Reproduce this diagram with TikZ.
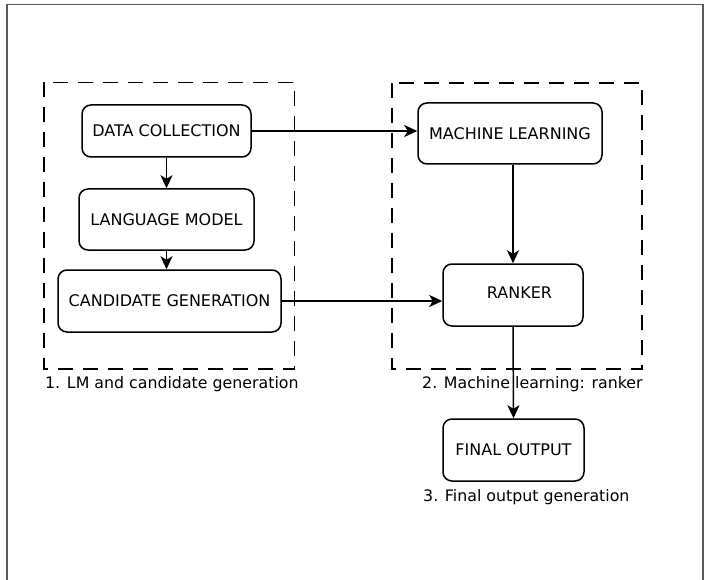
\documentclass[tikz,border=0pt]{standalone}
\usepackage{fontspec}
\setmainfont{DejaVu Sans}
\usetikzlibrary{arrows.meta}

\tikzset{
  stage/.style={draw=black, line width=1.5pt, dash pattern=on 15pt off 10pt},
  stepbox/.style={draw=black, line width=1.5pt, rounded corners=9pt, inner sep=0pt,
                  font=\fontsize{16}{19}\selectfont},
  caption/.style={inner sep=0pt, font=\fontsize{15.8}{19}\selectfont},
  flow/.style={line width=1.5pt, -{Stealth[length=13pt,width=12pt,inset=3.5pt]}}
}

\begin{document}
\begin{tikzpicture}[x=1pt,y=-1pt]
  \useasboundingbox (0,0) rectangle (704,580);

  % frame around the page
  \draw[black!65, line width=1.3pt] (7,580) -- (7,4.5) -- (703,4.5) -- (703,580);

  % stage groups
  \draw[stage] (44,82.5) rectangle (294.5,369);
  \draw[stage] (392,83) rectangle (642,369);

  % stage 1 boxes
  \node[stepbox, minimum width=169pt, minimum height=52pt] (dc) at (166.5,131) {DATA COLLECTION};
  \node[stepbox, minimum width=175pt, minimum height=61pt] (lm) at (166.5,219.5) {LANGUAGE MODEL};
  \node[stepbox, minimum width=223pt, minimum height=62pt] (cg) at (169.5,301) {CANDIDATE GENERATION};

  % stage 2 boxes
  \node[stepbox, minimum width=184pt, minimum height=61pt] (ml) at (510,133.5) {MACHINE LEARNING};
  \node[stepbox, minimum width=140pt, minimum height=62pt] (rk) at (513,295) {};
  \node[inner sep=0pt, font=\fontsize{16}{19}\selectfont] (rkt) at (519.5,293) {RANKER};

  % stage 3 box
  \node[stepbox, minimum width=141pt, minimum height=62pt] (fo) at (513.5,450) {FINAL OUTPUT};

  % stage captions
  \node[caption, anchor=west] (c1) at (45,384) {1. LM and candidate generation};
  \node[caption, anchor=west] (c2) at (422,384) {2. Machine learning: ranker};
  \node[caption, anchor=west] (c3) at (423,497) {3. Final output generation};

  % connectors
  \draw[flow] (dc.south) -- (lm.north);
  \draw[flow] (lm.south) -- (lm.south |- cg.north);
  \draw[flow] (dc.east) -- (dc.east -| ml.west);
  \draw[flow] (cg.east) -- (cg.east -| rk.west);
  \draw[flow] (rk.north |- ml.south) -- (rk.north);
  \draw[flow] (rk.south) -- (fo.north);
\end{tikzpicture}
\end{document}
